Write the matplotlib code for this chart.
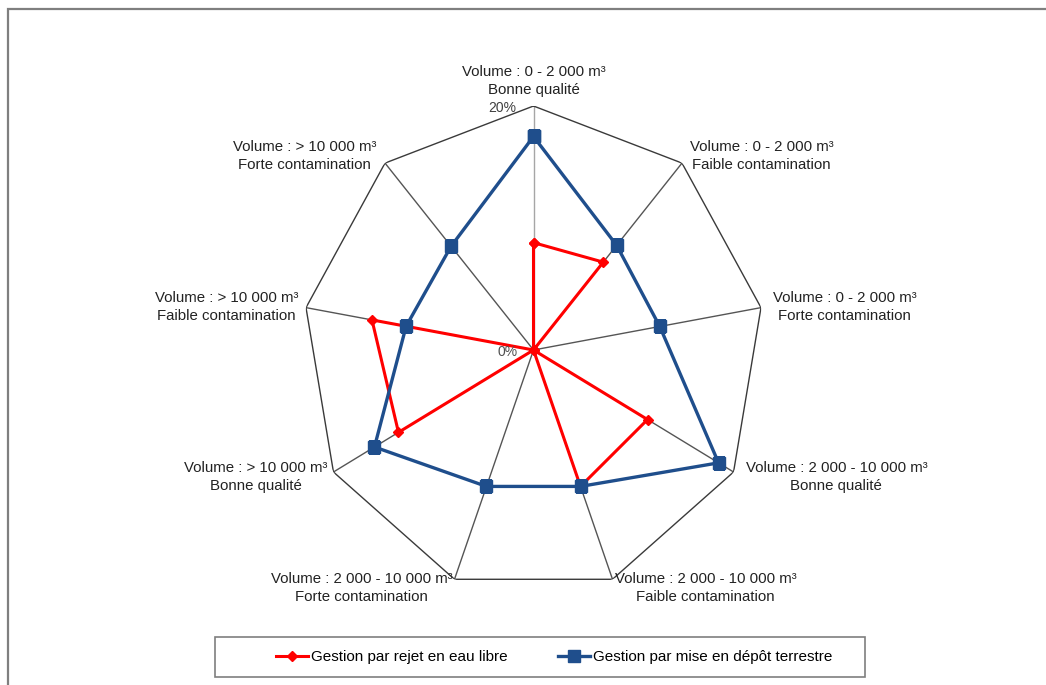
import numpy as np
import matplotlib
matplotlib.use("Agg")
import matplotlib.pyplot as plt
from matplotlib.lines import Line2D
from matplotlib.patches import Rectangle

plt.rcParams['font.family'] = ['Liberation Sans', 'DejaVu Sans']

categories = [
    "Volume : 0 - 2 000 m³\nBonne qualité",
    "Volume : 0 - 2 000 m³\nFaible contamination",
    "Volume : 0 - 2 000 m³\nForte contamination",
    "Volume : 2 000 - 10 000 m³\nBonne qualité",
    "Volume : 2 000 - 10 000 m³\nFaible contamination",
    "Volume : 2 000 - 10 000 m³\nForte contamination",
    "Volume : > 10 000 m³\nBonne qualité",
    "Volume : > 10 000 m³\nFaible contamination",
    "Volume : > 10 000 m³\nForte contamination",
]
rejet = [8.8, 9.4, 0.0, 11.4, 11.9, 0.0, 13.5, 14.2, 0.0]
depot = [17.5, 11.2, 11.1, 18.5, 11.9, 11.9, 15.9, 11.2, 11.1]
series_names = ["Gestion par rejet en eau libre", "Gestion par mise en dépôt terrestre"]
r_max = 20

RED = "#ff0000"
BLUE = "#1f4e8c"
W, H = 1046, 685

fig = plt.figure(figsize=(W / 100, H / 100), dpi=100)

# outer frame (only top and left edges visible)
fig.patches.append(Rectangle((8 / W, -0.1), 1.2, (H - 9) / H + 0.1, transform=fig.transFigure,
                             fill=False, edgecolor="#7f7f7f", linewidth=1.6))

cx, cy, rx, ry = 533.5, 350, 231, 244
ax = fig.add_axes([(cx - rx) / W, (H - cy - ry) / H, 2 * rx / W, 2 * ry / H], projection="polar")
ax.set_aspect("auto")
ax.set_theta_zero_location("N")
ax.set_theta_direction(-1)
ax.set_ylim(0, r_max)
ax.grid(False)
ax.set_xticks([])
ax.set_yticks([])
ax.spines["polar"].set_visible(False)
ax.patch.set_alpha(0)

n = len(categories)
theta = np.arange(n) * 2 * np.pi / n
closed = np.append(theta, theta[0])

# spokes and outer polygon
for i, t in enumerate(theta):
    ax.plot([t, t], [0, r_max], color="#a6a6a6" if i == 0 else "#555555", lw=1, zorder=1)
ax.plot(closed, [r_max] * (n + 1), color="#3a3a3a", lw=1, zorder=1)

ax.plot(closed, rejet + rejet[:1], color=RED, lw=2.2, marker="D", ms=5.5, zorder=3)
ax.plot(closed, depot + depot[:1], color=BLUE, lw=2.4, marker="s", ms=8, zorder=4)

# radial labels
ax.annotate("20%", (0, r_max), xytext=(-17, -2), textcoords="offset pixels",
            ha="right", va="center", fontsize=10, color="#404040")
ax.annotate("0%", (0, 0), xytext=(-16, -2), textcoords="offset pixels",
            ha="right", va="center", fontsize=10, color="#505050")

# category labels
offsets = [(0, 9, "center", "bottom"), (8, 7, "left", "center"), (12, 1, "left", "center"),
           (12, -5, "left", "center"), (2, -9, "left", "center"), (-2, -9, "right", "center"),
           (-6, -5, "right", "center"), (-8, 1, "right", "center"), (-9, 7, "right", "center")]
for t, lab, (dx, dy, ha, va) in zip(theta, categories, offsets):
    ax.annotate(lab, (t, r_max), xytext=(dx, dy), textcoords="offset pixels",
                ha=ha, va=va, multialignment="center", fontsize=10.8, linespacing=1.38,
                color="#222222", annotation_clip=False)

# legend
fig.patches.append(Rectangle((215 / W, (H - 677) / H), 650 / W, 40 / H, transform=fig.transFigure,
                             fill=False, edgecolor="#7f7f7f", linewidth=1.2))
handles = [Line2D([], [], color=RED, lw=2.2, marker="D", ms=5.5),
           Line2D([], [], color=BLUE, lw=2.4, marker="s", ms=8)]
fig.legend(handles, series_names, loc="center", bbox_to_anchor=(554 / W, (H - 657) / H),
           ncol=2, frameon=False, fontsize=11, handlelength=2.1, handletextpad=0.2,
           columnspacing=3.3)

fig.savefig("out.png", dpi=100)
